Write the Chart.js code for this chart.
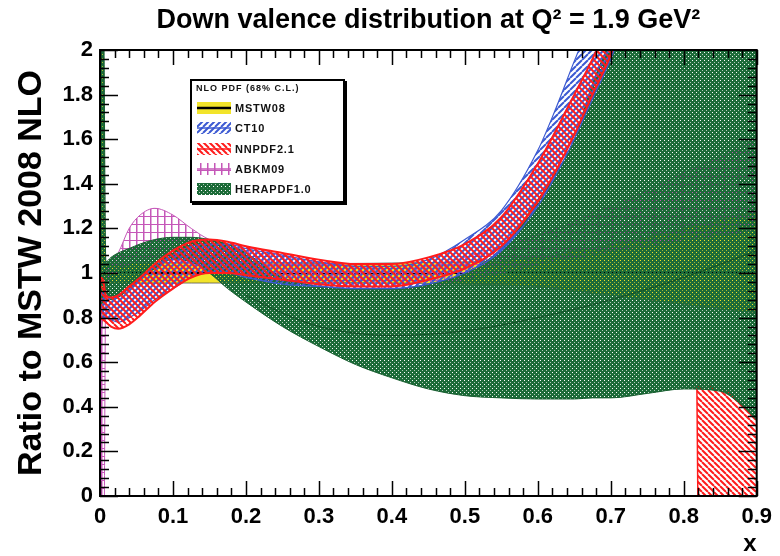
<!DOCTYPE html>
<html>
<head>
<meta charset="utf-8">
<title>Down valence distribution at Q2 = 1.9 GeV2</title>
<script src="https://cdn.jsdelivr.net/npm/chart.js@4.4.1/dist/chart.umd.min.js"></script>
<style>
  body { margin: 0; background: #fff; }
  #wrap { position: relative; width: 780px; height: 556px; }
  #legend {
    position: absolute; left: 190px; top: 79px; width: 151px; height: 120px;
    border: 2px solid #000; box-shadow: 2px 2px 0 #000; background: #fff;
    font-family: 'Liberation Sans', Arial, sans-serif; font-weight: bold; color: #111;
  }
  #legend .head { position: absolute; left: 4px; top: 2px; font-size: 9px; line-height: 11px; letter-spacing: 1px; }
  #legend .row { position: absolute; left: 5px; height: 16px; display: flex; align-items: center; font-size: 11px; letter-spacing: 0.8px; }
  #legend canvas { width: 34px; height: 14px; margin-right: 4px; }
</style>
</head>
<body>
<div id="wrap">
  <canvas id="chart" width="780" height="556"></canvas>
  <div id="legend"></div>
</div>
<script>
// Ratio bands (lower / upper edge) on a shared x grid
const xGrid = [0, 0.004, 0.008, 0.015, 0.025, 0.04, 0.055, 0.075, 0.1, 0.125, 0.15, 0.175, 0.2, 0.25, 0.3,
               0.35, 0.4, 0.45, 0.5, 0.55, 0.6, 0.625, 0.65, 0.675, 0.7, 0.75, 0.8, 0.85, 0.875, 0.9];

const mstwLow   = [0.7, 0.8, 0.955, 0.955, 0.955, 0.955, 0.955, 0.955, 0.955, 0.955, 0.955, 0.955, 0.955, 0.955, 0.957,
                   0.957, 0.955, 0.953, 0.95, 0.947, 0.94, 0.93, 0.92, 0.91, 0.9, 0.88, 0.86, 0.84, 0.83, 0.82];
const mstwHigh  = [2.5, 2.2, 1.045, 1.045, 1.045, 1.045, 1.045, 1.045, 1.045, 1.045, 1.045, 1.045, 1.045, 1.045, 1.043,
                   1.043, 1.045, 1.047, 1.05, 1.055, 1.07, 1.08, 1.1, 1.11, 1.13, 1.16, 1.2, 1.24, 1.26, 1.28];

const ct10Low   = [0.81, 0.8, 0.8, 0.79, 0.78, 0.8, 0.83, 0.88, 0.93, 0.98, 1.0, 1.0, 0.98, 0.95, 0.94,
                   0.93, 0.93, 0.95, 1.0, 1.1, 1.3, 1.44, 1.6, 1.78, 1.96, 2.4, 2.9, 3.4, 3.65, 3.9];
const ct10High  = [0.92, 0.91, 0.9, 0.89, 0.9, 0.93, 0.97, 1.03, 1.08, 1.12, 1.13, 1.13, 1.11, 1.08, 1.05,
                   1.03, 1.03, 1.06, 1.15, 1.28, 1.55, 1.74, 1.95, 2.15, 2.35, 2.85, 3.4, 4.0, 4.3, 4.6];

const nnpdfLow  = [0.8, 0.79, 0.78, 0.76, 0.75, 0.77, 0.81, 0.87, 0.93, 0.98, 1.0, 1.0, 0.99, 0.97, 0.95,
                   0.94, 0.94, 0.97, 1.02, 1.12, 1.32, 1.46, 1.62, 1.8, 1.98, 2.5, 3.0, 3.5, 3.75, 4.0];
const nnpdfHigh = [0.98, 0.97, 0.9, 0.89, 0.9, 0.94, 0.98, 1.04, 1.1, 1.14, 1.15, 1.14, 1.12, 1.09, 1.06,
                   1.04, 1.04, 1.07, 1.13, 1.25, 1.49, 1.64, 1.8, 1.96, 2.15, 2.6, 3.2, 3.8, 4.1, 4.4];

const abkmLow   = [-1, -1, 0.93, 0.97, 1.0, 1.04, 1.06, 1.07, 1.06, 1.04, 1.02, 1.0, 0.98, 0.96, 0.94,
                   0.93, 0.93, 0.94, 0.97, 1.0, 1.04, 1.06, 1.07, 1.08, 1.1, 1.12, 1.15, 1.17, 1.18, 1.2];
const abkmHigh  = [0.85, 0.9, 1.0, 1.04, 1.09, 1.2, 1.26, 1.29, 1.26, 1.2, 1.15, 1.13, 1.12, 1.08, 1.05,
                   1.03, 1.02, 1.03, 1.07, 1.12, 1.17, 1.2, 1.23, 1.27, 1.3, 1.37, 1.45, 1.52, 1.56, 1.6];

const heraLow   = [0.85, 0.87, 0.9, 0.88, 0.89, 0.93, 0.97, 1.02, 1.06, 1.05, 1.0, 0.93, 0.87, 0.76, 0.67,
                   0.59, 0.53, 0.48, 0.45, 0.44, 0.435, 0.435, 0.435, 0.44, 0.44, 0.46, 0.48, 0.47, 0.42, 0.34];
const heraHigh  = [2.5, 2.5, 1.05, 1.07, 1.09, 1.11, 1.13, 1.15, 1.16, 1.16, 1.15, 1.13, 1.09, 0.98, 0.94,
                   0.93, 0.93, 0.95, 1.0, 1.11, 1.33, 1.45, 1.6, 1.85, 2.05, 2.5, 3.0, 3.5, 3.75, 4.0];

// inner HERAPDF edge (experimental part of the band)
const heraLineX = [0.2, 0.25, 0.3, 0.35, 0.4, 0.5, 0.6, 0.7, 0.8, 0.9];
const heraLineY = [0.9, 0.82, 0.76, 0.73, 0.72, 0.74, 0.8, 0.88, 0.98, 1.1];

// MSTW central value (ratio to itself)
const mstwCentralX = [0, 0.9];
const mstwCentral  = [1, 1];

// NNPDF lower edge falls below zero at high x
const tailX         = [0.815, 0.818, 0.822, 0.85, 0.875, 0.9];
const nnpdfTailLow  = [0.49, 0.49, -1, -1, -1, -1];
const nnpdfTailHigh = [0.49, 0.49, 0.5, 0.49, 0.44, 0.36];

const xTicks = [0, 0.1, 0.2, 0.3, 0.4, 0.5, 0.6, 0.7, 0.8, 0.9];
const xTickLabels = ['0', '0.1', '0.2', '0.3', '0.4', '0.5', '0.6', '0.7', '0.8', '0.9'];
const yTicks = [0, 0.2, 0.4, 0.6, 0.8, 1, 1.2, 1.4, 1.6, 1.8, 2];
const yTickLabels = ['0', '0.2', '0.4', '0.6', '0.8', '1', '1.2', '1.4', '1.6', '1.8', '2'];

const FONT = "'Liberation Sans', Arial, sans-serif";
const YELLOW = '#f2e42a';
const BLUE = '#3c5ad2';
const RED = '#ff1c1c';
const MAGENTA = '#c557b8';
const GREEN = '#1c6b38';

// ROOT-like fill patterns
function makePattern(ctx, kind) {
    const tile = document.createElement('canvas');
    const t = tile.getContext('2d');
    if (kind === 'nnpdf' || kind === 'ct10') {
        const s = 6;
        tile.width = tile.height = s;
        t.strokeStyle = kind === 'nnpdf' ? RED : BLUE;
        t.lineWidth = 2;
        t.beginPath();
        for (const k of [-s, 0, s]) {
            if (kind === 'nnpdf') { t.moveTo(k, 0); t.lineTo(k + s, s); }
            else { t.moveTo(k, s); t.lineTo(k + s, 0); }
        }
        t.stroke();
    } else if (kind === 'abkm') {
        tile.width = 7; tile.height = 8;
        t.fillStyle = MAGENTA;
        t.fillRect(3, 0, 1.5, 8);
        t.fillRect(0, 0, 7, 1);
    } else if (kind === 'hera') {
        // dark green with small see-through dots
        tile.width = tile.height = 4;
        t.fillStyle = GREEN;
        t.fillRect(0, 0, 4, 4);
        t.clearRect(0, 0, 1, 1);
        t.clearRect(2, 2, 1, 1);
        t.fillStyle = 'rgba(28,107,56,0.35)';
        t.fillRect(2, 2, 1, 1);
    } else {
        tile.width = tile.height = 2;
        t.fillStyle = YELLOW;
        t.fillRect(0, 0, 2, 2);
    }
    return ctx.createPattern(tile, 'repeat');
}

const pts = (xs, ys) => xs.map((x, i) => ({ x, y: ys[i] }));

function band(label, xs, low, high, fillStyle, edge, width, order, extra, topEdge) {
    return [
        Object.assign({ label: label + ' (low)', data: pts(xs, low), borderColor: edge, borderWidth: width, order, fill: false }, extra),
        Object.assign({ label, data: pts(xs, high), borderColor: topEdge || edge, borderWidth: width, order, fill: '-1', backgroundColor: fillStyle }, extra)
    ];
}

// frame with inward major/minor ticks on all four sides
const frameTicks = {
    id: 'frameTicks',
    afterDatasetsDraw(chart) {
        const { ctx, chartArea: a, scales: { x, y } } = chart;
        ctx.save();
        ctx.strokeStyle = '#000';
        ctx.lineWidth = 1.5;
        ctx.beginPath();
        for (let i = 0; i <= 45; i++) {
            const px = Math.round(x.getPixelForValue(i * 0.02)) + 0.5;
            const len = i % 5 === 0 ? 15 : 8;
            ctx.moveTo(px, a.bottom); ctx.lineTo(px, a.bottom - len);
            ctx.moveTo(px, a.top); ctx.lineTo(px, a.top + len);
        }
        for (let i = 0; i <= 50; i++) {
            const py = Math.round(y.getPixelForValue(i * 0.04)) + 0.5;
            const len = i % 5 === 0 ? 18 : 9;
            ctx.moveTo(a.left, py); ctx.lineTo(a.left + len, py);
            ctx.moveTo(a.right, py); ctx.lineTo(a.right - len, py);
        }
        ctx.stroke();
        ctx.lineWidth = 2;
        ctx.strokeRect(a.left, a.top, a.right - a.left, a.bottom - a.top);
        ctx.restore();
    }
};

const canvas = document.getElementById('chart');
const ctx = canvas.getContext('2d');
const smooth = { cubicInterpolationMode: 'monotone' };
const straight = { tension: 0 };

const datasets = [
    ...band('NNPDF2.1', xGrid, nnpdfLow, nnpdfHigh, makePattern(ctx, 'nnpdf'), RED, 2, 1, smooth),
    ...band('CT10', xGrid, ct10Low, ct10High, makePattern(ctx, 'ct10'), BLUE, 1.2, 2, smooth),
    { label: 'HERAPDF1.0 (exp)', data: pts(heraLineX, heraLineY), borderColor: 'rgba(12,70,32,0.8)', borderWidth: 1, order: 2.5, fill: false, cubicInterpolationMode: 'monotone' },
    ...band('HERAPDF1.0', xGrid, heraLow, heraHigh, makePattern(ctx, 'hera'), '#185e30', 1, 3, smooth),
    ...band('ABKM09', xGrid, abkmLow, abkmHigh, makePattern(ctx, 'abkm'), MAGENTA, 1, 4, smooth),
    { label: 'MSTW08 (central)', data: pts(mstwCentralX, mstwCentral), borderColor: '#000', borderWidth: 2, order: 4.5, fill: false },
    ...band('MSTW08', xGrid, mstwLow, mstwHigh, YELLOW, '#555', 0.8, 5, smooth),
    ...band('NNPDF2.1 (tail)', tailX, nnpdfTailLow, nnpdfTailHigh, makePattern(ctx, 'nnpdf'), RED, 1.5, 6, straight, 'rgba(0,0,0,0)')
];

new Chart(ctx, {
    type: 'line',
    data: { datasets },
    options: {
        responsive: false,
        animation: false,
        devicePixelRatio: 1,
        events: [],
        layout: { padding: { left: 0, right: 23, top: 0, bottom: 0 } },
        elements: { point: { radius: 0 } },
        plugins: {
            legend: { display: false },
            tooltip: { enabled: false },
            title: {
                display: true,
                fullSize: false,
                text: 'Down valence distribution at Q\u00b2 = 1.9 GeV\u00b2',
                color: '#000',
                font: { family: FONT, size: 27, weight: 'bold' },
                padding: { top: 4, bottom: 13.6 }
            }
        },
        scales: {
            x: {
                type: 'linear',
                min: 0,
                max: 0.9,
                afterBuildTicks: s => { s.ticks = xTicks.map(value => ({ value })); },
                afterFit: s => { s.height = 60; },
                grid: { display: false, drawTicks: false },
                border: { display: false },
                ticks: {
                    padding: 8, color: '#000', autoSkip: false, maxRotation: 0,
                    font: { family: FONT, size: 22, weight: 'bold' },
                    callback: (v, i) => xTickLabels[i]
                },
                title: {
                    display: true, text: 'x', align: 'end', color: '#000',
                    font: { family: FONT, size: 24, weight: 'bold' },
                    padding: { top: 0, bottom: -3 }
                }
            },
            y: {
                type: 'linear',
                min: 0,
                max: 2,
                afterBuildTicks: s => { s.ticks = yTicks.map(value => ({ value })); },
                afterFit: s => { s.width = 100; },
                grid: { display: false, drawTicks: false },
                border: { display: false },
                ticks: {
                    padding: 7, color: '#000', autoSkip: false,
                    font: { family: FONT, size: 22, weight: 'bold' },
                    callback: (v, i) => yTickLabels[i]
                },
                title: {
                    display: true, text: 'Ratio to MSTW 2008 NLO', color: '#000',
                    font: { family: FONT, size: 34, weight: 'bold' },
                    padding: { top: 11, bottom: 0 }
                }
            }
        }
    },
    plugins: [frameTicks]
});

// legend box inside the frame
const legendItems = [
    { name: 'MSTW08', kind: 'mstw', line: '#000', lineWidth: 2.5 },
    { name: 'CT10', kind: 'ct10', line: BLUE, lineWidth: 1.5 },
    { name: 'NNPDF2.1', kind: 'nnpdf', line: RED, lineWidth: 1.5 },
    { name: 'ABKM09', kind: 'abkm', line: MAGENTA, lineWidth: 1.5 },
    { name: 'HERAPDF1.0', kind: 'hera', line: GREEN, lineWidth: 1.5 }
];

const legend = document.getElementById('legend');
legend.innerHTML = '<div class="head">NLO PDF (68% C.L.)</div>';
legendItems.forEach((item, i) => {
    const row = document.createElement('div');
    row.className = 'row';
    row.style.top = (19 + i * 20.3) + 'px';
    const sw = document.createElement('canvas');
    sw.width = 34; sw.height = 14;
    const c = sw.getContext('2d');
    c.fillStyle = makePattern(c, item.kind);
    c.fillRect(0, 1, 34, 12);
    c.strokeStyle = item.line;
    c.lineWidth = item.lineWidth;
    c.beginPath(); c.moveTo(0, 7); c.lineTo(34, 7); c.stroke();
    const label = document.createElement('span');
    label.textContent = item.name;
    row.appendChild(sw);
    row.appendChild(label);
    legend.appendChild(row);
});
</script>
</body>
</html>
